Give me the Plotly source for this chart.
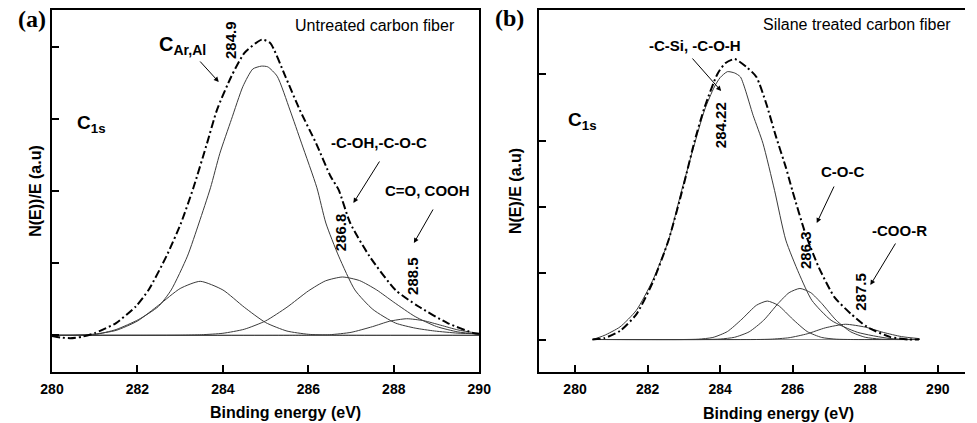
import plotly.graph_objects as go

W, H = 977, 423

# ---------------- Panel (a): untreated carbon fiber ----------------
A_env_E = [280.0, 280.2, 280.43, 280.7, 281.0, 281.19, 281.5, 281.96, 282.26, 282.68, 283.02, 283.31,
           283.63, 283.86, 284.2, 284.5, 284.77, 284.92, 285.11, 285.46, 285.8, 286.18, 286.52, 286.71,
           286.98, 287.43, 288.04, 288.58, 289.26, 289.87, 290.0]
A_env_V = [-0.01, -0.03, -0.04, -0.02, 0.03, 0.08, 0.17, 0.40, 0.63, 1.10, 1.56, 2.05,
           2.67, 3.13, 3.60, 3.92, 4.06, 4.11, 4.06, 3.60, 3.13, 2.67, 2.21, 2.02,
           1.56, 1.10, 0.63, 0.40, 0.17, 0.03, 0.02]

A_main_E = [280.0, 280.5, 281.0, 281.5, 282.03, 282.49, 282.79, 283.17, 283.44, 283.71, 283.93, 284.2,
            284.47, 284.7, 284.9, 285.05, 285.27, 285.57, 285.84, 286.2, 286.41, 286.71, 287.09, 287.51,
            288.04, 288.5, 288.95, 289.5, 290.0]
A_main_V = [0.0, 0.0, 0.01, 0.08, 0.22, 0.40, 0.63, 1.10, 1.56, 2.05, 2.53, 3.00,
            3.46, 3.70, 3.74, 3.73, 3.60, 3.13, 2.67, 2.05, 1.56, 1.10, 0.63, 0.36,
            0.17, 0.10, 0.06, 0.03, 0.02]

A_p2_E = [280.0, 280.5, 281.0, 281.5, 282.0, 282.5, 283.0, 283.47, 284.0, 284.5, 285.0, 285.5, 286.0, 286.5, 287.0, 290.0]
A_p2_V = [0.0, 0.001, 0.017, 0.068, 0.198, 0.42, 0.65, 0.75, 0.63, 0.39, 0.177, 0.059, 0.014, 0.002, 0.0, 0.0]

A_p3_E = [280.0, 283.0, 283.5, 284.0, 284.5, 285.0, 285.5, 286.0, 286.4, 286.8, 287.2, 287.6, 288.0, 288.5, 289.0, 289.5, 290.0]
A_p3_V = [0.0, 0.002, 0.008, 0.028, 0.084, 0.20, 0.39, 0.616, 0.756, 0.81, 0.76, 0.63, 0.46, 0.26, 0.122, 0.047, 0.015]

A_p4_E = [280.0, 285.5, 286.0, 286.5, 287.0, 287.5, 287.9, 288.3, 288.7, 289.1, 289.5, 290.0]
A_p4_V = [0.0, 0.0, 0.001, 0.008, 0.041, 0.12, 0.195, 0.23, 0.203, 0.14, 0.075, 0.024]

A_base_E = [280.0, 290.0]
A_base_V = [0.0, 0.0]

# ---------------- Panel (b): silane treated carbon fiber ----------------
B_env_E = [280.48, 280.8, 281.24, 281.69, 282.14, 282.58, 282.99, 283.3, 283.57, 283.93, 284.15, 284.4,
           284.73, 285.0, 285.27, 285.54, 285.81, 285.99, 286.35, 286.71, 287.15, 287.6, 288.05, 288.68,
           289.2, 289.48]
B_env_V = [0.0, 0.02, 0.13, 0.38, 0.86, 1.50, 2.32, 3.0, 3.50, 4.01, 4.17, 4.23,
           4.11, 3.96, 3.56, 3.06, 2.60, 2.25, 1.60, 1.10, 0.64, 0.39, 0.19, 0.04,
           0.0, 0.0]

B_main_E = [280.48, 280.8, 281.24, 281.69, 282.14, 282.58, 282.94, 283.3, 283.57, 283.84, 284.0, 284.2,
            284.4, 284.56, 284.91, 285.18, 285.5, 285.81, 286.17, 286.53, 287.06, 287.78, 288.68, 289.48]
B_main_V = [0.0, 0.06, 0.19, 0.44, 0.89, 1.50, 2.25, 2.96, 3.46, 3.81, 3.95, 4.04,
            4.02, 3.96, 3.38, 2.96, 2.25, 1.50, 1.00, 0.59, 0.29, 0.11, 0.015, 0.0]

B_p2_E = [280.5, 283.0, 283.4, 283.8, 284.2, 284.6, 285.0, 285.3, 285.6, 286.0, 286.4, 286.8, 287.2, 287.6, 289.5]
B_p2_V = [0.0, 0.0, 0.005, 0.031, 0.12, 0.307, 0.516, 0.58, 0.516, 0.307, 0.12, 0.031, 0.005, 0.0, 0.0]

B_p3_E = [280.5, 283.6, 284.0, 284.4, 284.8, 285.2, 285.6, 285.9, 286.2, 286.5, 286.8, 287.2, 287.6, 288.0, 288.4, 288.8, 289.5]
B_p3_V = [0.0, 0.0, 0.007, 0.034, 0.116, 0.29, 0.544, 0.706, 0.77, 0.706, 0.544, 0.29, 0.116, 0.034, 0.007, 0.0, 0.0]

B_p4_E = [280.5, 285.0, 285.4, 285.9, 286.4, 286.9, 287.45, 288.0, 288.5, 289.0, 289.5]
B_p4_V = [0.0, 0.0, 0.005, 0.027, 0.086, 0.176, 0.23, 0.187, 0.107, 0.044, 0.013]

B_base_E = [280.48, 289.5]
B_base_V = [0.0, 0.0]

X_TICKS = [280, 282, 284, 286, 288, 290]
Y_TICKS = [0, 1, 2, 3, 4]

# ---------------- figure ----------------
fig = go.Figure()

ENV = dict(color="black", width=2, dash="8px,3px,2px,3px", shape="spline", smoothing=0.6)
COMP = dict(color="#3a3a3a", width=1, shape="spline", smoothing=0.6)
BASE = dict(color="#8a8a8a", width=1.2)


def add(x, y, line, xa, ya):
    fig.add_trace(go.Scatter(x=x, y=y, mode="lines", line=line, xaxis=xa, yaxis=ya,
                             showlegend=False, hoverinfo="skip"))


for xa, ya, base, comps, env in [
    ("x", "y", (A_base_E, A_base_V),
     [(A_main_E, A_main_V), (A_p2_E, A_p2_V), (A_p3_E, A_p3_V), (A_p4_E, A_p4_V)],
     (A_env_E, A_env_V)),
    ("x2", "y2", (B_base_E, B_base_V),
     [(B_main_E, B_main_V), (B_p2_E, B_p2_V), (B_p3_E, B_p3_V), (B_p4_E, B_p4_V)],
     (B_env_E, B_env_V)),
]:
    add(base[0], base[1], BASE, xa, ya)
    for cx, cy in comps:
        add(cx, cy, COMP, xa, ya)
    add(env[0], env[1], ENV, xa, ya)


def px(x):
    return x / W


def py(y):
    return 1 - y / H


axis_common = dict(showgrid=False, zeroline=False, showline=True, linecolor="black", linewidth=2,
                   ticks="inside", ticklen=7, tickwidth=1.5, tickcolor="black")
ytitle_font = dict(size=16, weight="bold", color="black")

fig.update_layout(
    width=W, height=H, margin=dict(l=0, r=0, t=0, b=0),
    plot_bgcolor="white", paper_bgcolor="white",
    font=dict(family="Liberation Sans, Arial, sans-serif", color="black"),
    xaxis=dict(domain=[px(41), px(479)], range=[280, 290], tickvals=X_TICKS, mirror=True,
               tickfont=dict(size=14, weight="bold"), ticklabelstandoff=3, anchor="y", **axis_common),
    yaxis=dict(domain=[py(372), py(10)], range=[-0.51, 4.52], tickvals=Y_TICKS, showticklabels=False,
               mirror=True, anchor="x",
               title=dict(text="N(E))/E (a.u)", font=ytitle_font, standoff=4), **axis_common),
    xaxis2=dict(domain=[px(540), 1.0], range=[279, 290.75], tickvals=X_TICKS, mirror=True,
                tickfont=dict(size=14, weight="bold"), ticklabelstandoff=3, anchor="y2", **axis_common),
    yaxis2=dict(domain=[py(372), py(10)], range=[-0.49, 4.97], tickvals=Y_TICKS, showticklabels=False,
                mirror=False, anchor="x2",
                title=dict(text="N(E)/E (a.u)", font=ytitle_font, standoff=11), **axis_common),
)

ann = []


def text(x, y, s, size=15, bold=True, angle=0, family=None, xanchor="center"):
    f = dict(size=size, color="black")
    if bold:
        f["weight"] = "bold"
    if family:
        f["family"] = family
    ann.append(dict(x=px(x), y=py(y), xref="paper", yref="paper", text=s, showarrow=False,
                    font=f, textangle=angle, xanchor=xanchor, yanchor="middle"))


def arrow(x0, y0, x1, y1):
    # tail (x0,y0) -> head (x1,y1), in pixels
    ann.append(dict(x=px(x1), y=py(y1), xref="paper", yref="paper", ax=x0 - x1, ay=y0 - y1,
                    text="", showarrow=True, arrowhead=2, arrowsize=1, arrowwidth=1,
                    arrowcolor="black"))


# panel (a)
text(20, 19, "(a)", size=24, family="Liberation Serif, Times New Roman, serif")
text(372, 26, "Untreated carbon fiber", size=16, bold=False)
text(175, 45, "C<sub>Ar,Al</sub>", size=20)
text(223.5, 40, "284.9", size=15, angle=-90)
arrow(192, 60, 212, 82)
text(81, 124, "C<sub>1s</sub>", size=19)
text(376, 143, "-C-OH,-C-O-C", size=15)
arrow(377, 160, 350, 203)
text(426, 190, "C=O, COOH", size=15)
arrow(432, 208, 412, 243)
text(336.5, 232, "286.8", size=15, angle=-90)
text(410, 276, "288.5", size=15, angle=-90)
text(280, 412, "Binding energy (eV)", size=16)

# panel (b)
text(510, 18, "(b)", size=24, family="Liberation Serif, Times New Roman, serif")
text(866, 25, "Silane treated carbon fiber", size=16, bold=False)
text(700, 45, "-C-Si, -C-O-H", size=15)
arrow(697, 57, 727, 91)
text(727, 125, "284.22", size=15, angle=-90)
text(585, 121, "C<sub>1s</sub>", size=19)
text(851, 172, "C-O-C", size=15)
arrow(843, 185, 825, 223)
text(814, 250, "286.3", size=15, angle=-90)
text(910, 230, "-COO-R", size=15)
arrow(906, 242, 880, 285)
text(869, 292, "287.5", size=15, angle=-90)
text(786, 413, "Binding energy (eV)", size=16)

fig.update_layout(annotations=ann)

fig.write_html("out.html")
